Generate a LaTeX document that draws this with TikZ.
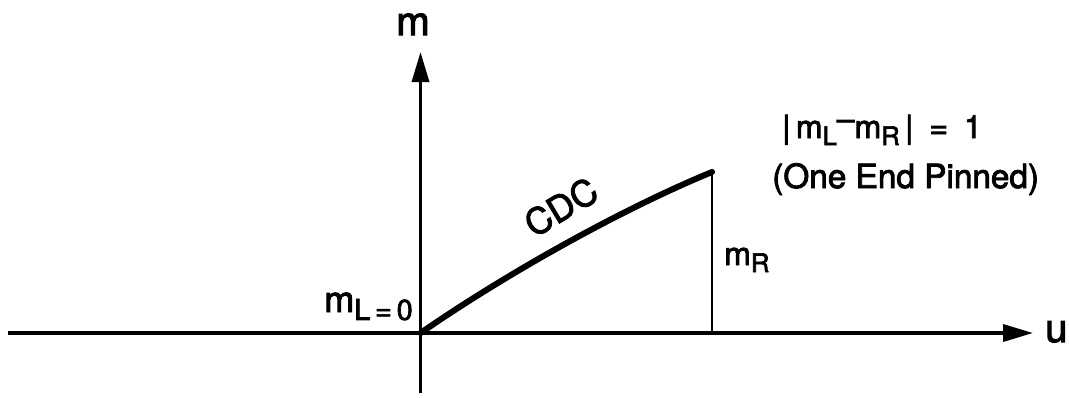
\documentclass[tikz,border=0pt]{standalone}
\usepackage{fontspec}
\setmainfont{TeX Gyre Heros}[BoldFont=TeX Gyre Heros, BoldFeatures={FakeBold=2.5}]
\usetikzlibrary{arrows.meta}
\newcommand\dsub[1]{\raisebox{-0.22em}{\scalebox{0.8}{#1}}}
\begin{document}
\begin{tikzpicture}[x=0.75pt,y=-0.75pt,
  axis/.style={line width=2.6pt, -{Triangle[length=22.5pt,width=12.75pt]}},
  lbl/.style={inner sep=0pt, font=\fontsize{27}{30}\selectfont\bfseries},
  eqlbl/.style={inner sep=0pt, font=\fontsize{24}{30}\selectfont\bfseries},
  pinlbl/.style={inner sep=0pt, font=\fontsize{25}{30}\selectfont\bfseries},
  biglbl/.style={inner sep=0pt, font=\fontsize{30}{34}\selectfont\bfseries},
  smlbl/.style={inner sep=0pt, font=\fontsize{24}{28}\selectfont\bfseries}]
\useasboundingbox (0,0) rectangle (1069,397);
\coordinate (xl) at (8,333);
\coordinate (xr) at (1033,333);
\coordinate (yb) at (420.5,393);
\coordinate (yt) at (420.5,52);
\coordinate (O) at (420.5,333);
\coordinate (E) at (712,172);
\coordinate (F) at (712,333);
\draw[axis] (xl) -- (xr);
\draw[axis] (yb) -- (yt);
\draw[line width=4.5pt, line cap=round] (O) .. controls (500,278) and (615,212) .. (E);
\draw[line width=2.2pt] (E) -- (F);
\node[biglbl, anchor=base] (mlab) at (413,35) {m};
\node[biglbl, anchor=base west] (ulab) at (1045,342) {u};
\node[smlbl, anchor=base west] (mR) at (724,265) {m\dsub{R}};
\node[lbl, anchor=base east] (mL) at (413,312) {m\dsub{L\,=\,0}};
\node[lbl, rotate=31] (cdc) at (561,207) {CDC};
\node[eqlbl, anchor=base west] (eq) at (782,138) {|\,m\dsub{L}\raisebox{0.25em}{–}m\dsub{R}\,|\enspace=\enspace1};
\node[pinlbl, anchor=base west] (pin) at (772,188) {(One End Pinned)};
\end{tikzpicture}
\end{document}
